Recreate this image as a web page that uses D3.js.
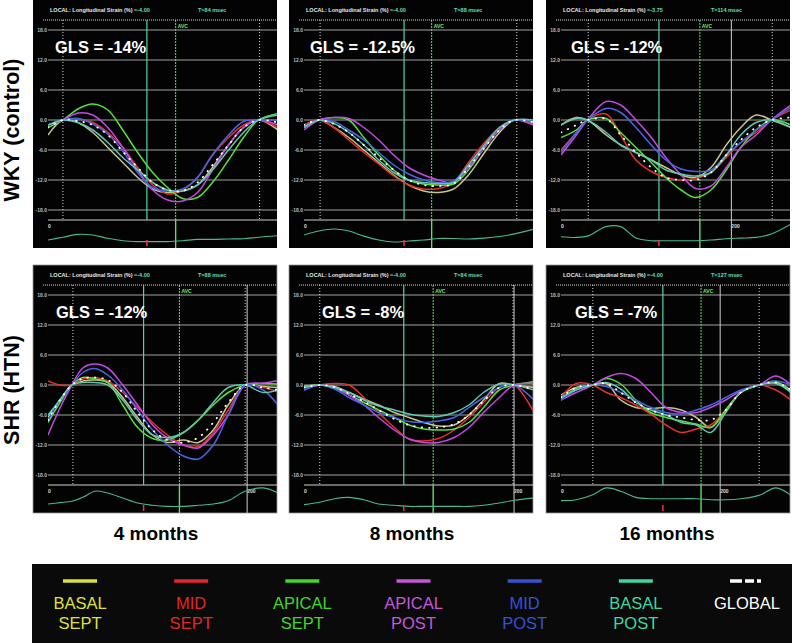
<!DOCTYPE html>
<html lang="en">
<head>
<meta charset="UTF-8">
<title>Longitudinal strain curves</title>
<style>
  body { margin: 0; background: #fff; }
  svg { display: block; font-family: "Liberation Sans", Arial, sans-serif; }
</style>
</head>
<body>
<script src="https://d3js.org/d3.v7.min.js"></script>
<script>
// segment order = row order in every strain table below
const segments = ["BASAL SEPT", "MID SEPT", "APICAL SEPT", "APICAL POST", "MID POST", "BASAL POST", "GLOBAL"];
const traceColors = ["#c9c48c", "#e8302c", "#56e03a", "#c548e6", "#4a64e8", "#5cc8b0", "#ffffff"];
const legendColors = ["#dde23a", "#e0262e", "#43d62c", "#c458d6", "#3452d4", "#3fd8a4", "#ffffff"];

const groups = ["WKY (control)", "SHR (HTN)"];
const ages = ["4 months", "8 months", "16 months"];
const gls = [-14, -12.5, -12, -12, -8, -7];
const headerStrain = ["-4.00", "-4.00", "-3.75", "-4.00", "-4.00", "-4.00"];
const headerT = [84, 88, 114, 88, 84, 127];
const yTicks = [18, 12, 6, 0, -6, -12, -18];

// time markers per panel (msec)
const tMax = [200, 200, 270, 231, 219, 289];
const tDotA = [13, 14, 32, 25, 15, 40];
const tTeal = [86, 87, 115, 96, 95, 128];
const tAVC = [111, 111, 163, 132, 123, 176];
const tDotB = [184, 185, 248, 198, 199, 249];

// WKY 4 months
const times0 = [0, 13, 26, 39, 52, 65, 78, 91, 104, 117, 130, 143, 157, 170, 183, 200];
const strain0 = [
  [-3, 0, -0.5, -2.5, -5.5, -8.5, -11.5, -13.8, -14.5, -14.2, -13, -9.5, -5, -1.5, 0, -2],
  [-1, 0, 0.2, -0.5, -2.5, -5.5, -9.5, -13, -14.8, -14, -11.5, -7, -3.5, -1, 0, -1.5],
  [-1.5, 0, 2.2, 3.2, 2, -2, -6.5, -10.5, -13.5, -15.7, -15.5, -12.5, -8, -3.5, 0, 1.3],
  [-1, 0, 1.4, 1, -1.5, -5.5, -10, -14, -16, -16.2, -14.5, -10, -5, -1.5, 0, -1],
  [-1, 0, 0.3, -0.8, -2.8, -6.2, -10.5, -13.5, -14.2, -13.8, -11.5, -7, -3, -0.3, 0, 0],
  [-1, 0, -0.5, -2, -4.5, -7.5, -10, -12.5, -14, -14.2, -13, -10, -6, -2.5, 0, 1],
  [-1.5, 0, -0.2, -1, -3, -6.3, -9.5, -12.5, -14, -14.2, -12.5, -9, -5, -1.5, 0, -0.5]
];
const ecg0 = [0.27, 0.4, 0.53, 0.5, 0.35, 0.24, 0.2, 0.2, 0.2, 0.24, 0.3, 0.3, 0.32, 0.33, 0.4, 0.47];

// WKY 8 months
const times1 = [0, 13, 26, 39, 52, 65, 78, 91, 104, 117, 130, 143, 157, 170, 183, 200];
const strain1 = [
  [-1.5, 0, -1.5, -3.5, -6, -8.5, -11, -13, -14.2, -14.5, -13.8, -11, -6.5, -2.5, 0, -1],
  [-1, 0, -1.5, -4, -6.5, -8.8, -11.2, -13, -13.8, -13.7, -12.5, -8.5, -4.5, -1.5, 0, -1],
  [-1.5, 0, 0.5, 0, -3.5, -7, -10, -12, -12.8, -13, -12.8, -10, -5.5, -2, 0, -0.5],
  [-2, 0, 0.5, 0.3, -1.5, -4, -7, -9.5, -11, -12, -12.5, -9.5, -5.5, -2, 0, -1],
  [-1.5, 0, -0.3, -2, -4, -6.5, -9, -10.8, -12, -12.5, -12.2, -9, -5, -1.5, 0, -0.5],
  [-1.5, 0, -0.7, -2.5, -5, -8, -10.5, -12, -12.5, -12.7, -12.5, -9, -5, -1.5, 0, 0],
  [-1, 0, -0.8, -2.5, -5, -7.5, -10, -12, -13, -13.2, -12.8, -9.5, -5.5, -2, 0, -0.5]
];
const ecg1 = [0.5, 0.68, 0.77, 0.68, 0.45, 0.27, 0.18, 0.23, 0.27, 0.34, 0.34, 0.32, 0.36, 0.43, 0.55, 0.77];

// WKY 16 months
const times2 = [0, 18, 31, 53, 70, 88, 106, 123, 141, 158, 176, 194, 211, 229, 247, 270];
const strain2 = [
  [-1, 0.5, 0, -3, -5, -6.5, -8, -9.5, -11, -11.5, -9.5, -5, -1.5, 1, 0, -1.5],
  [-6, -2.5, 0, 1.2, -3, -8, -10.3, -11.5, -12, -11.7, -10.5, -7.5, -4.5, -2.5, 0, 2],
  [-3.5, -2, 0, 0.3, -2.5, -5.5, -8.5, -11.5, -14, -15.5, -14, -10, -5.5, -2, 0, -1],
  [-7, -3, 0, 3.7, 3, 0, -3.5, -7.5, -11, -13.7, -13.2, -9.5, -5.5, -3, 0, 3],
  [-6.5, -2.5, 0, 2.3, 1.5, -1.5, -5, -8, -9.8, -10.3, -10, -7, -4.5, -2, 0, 2.5],
  [-1, 0.3, 0, -2.5, -5, -6.5, -8, -10, -10.8, -11.2, -10.5, -7, -3, -0.5, 0, -1.5],
  [-2.5, -1, 0, 0.2, -3, -6.5, -9.5, -11.5, -12, -12, -10.5, -7, -4, -1.5, 0, 0.5]
];
const ecg2 = [0.42, 0.39, 0.45, 0.88, 0.88, 0.36, 0.24, 0.24, 0.24, 0.24, 0.27, 0.33, 0.36, 0.39, 0.55, 1.0];

// SHR 4 months
const times3 = [0, 12, 24, 35, 47, 60, 75, 90, 105, 120, 136, 151, 166, 181, 198, 216, 231];
const strain3 = [
  [-6.5, -3, 0, 0.8, 1, 0.5, -2.5, -6.5, -10, -11.5, -11, -11.5, -9, -4, 0, -0.3, -0.5],
  [0.8, 0, 0, 1.2, 1.5, 0.8, -1.5, -4.5, -7.5, -10, -12, -12.3, -9.5, -5, 0, -0.5, -1.3],
  [-7.5, -3.5, 0, 1.5, 1.2, 0.5, -4, -8.5, -10.7, -11, -9.5, -7, -4, -1.5, 0, 0.3, 0.2],
  [-10, -4.6, 0, 3.4, 4.2, 3.4, 0, -4, -8, -10.6, -12, -12.6, -10, -6, 0, 0.4, 0.9],
  [-7, -3, 0, 2.5, 3.3, 2, -1, -5, -9, -12, -14.2, -14.8, -12, -6, 0, -1, -4],
  [-6, -3, 0, 0.5, 0.5, 0, -3, -7, -10, -10.5, -9.5, -7, -3.5, -0.5, 0, -1.5, -1],
  [-7, -3, 0, 1.3, 1.5, 1, -1.5, -5.5, -9, -11, -11.5, -10.5, -7.5, -3.5, 0, -0.5, -1]
];
const ecg3 = [0.32, 0.38, 0.44, 0.62, 0.9, 0.82, 0.59, 0.36, 0.26, 0.21, 0.21, 0.26, 0.32, 0.47, 0.9, 1.05, 0.82];

// SHR 8 months
const times4 = [0, 15, 29, 43, 57, 71, 86, 100, 114, 128, 143, 157, 171, 186, 200, 219];
const strain4 = [
  [-0.3, 0, -0.3, -1.5, -2.8, -4, -5.5, -6.5, -7.5, -8.2, -8, -6, -3, 0.3, 0, -0.5],
  [-0.5, 0, 0.3, 0, -2.5, -5.5, -8.5, -10.8, -11.2, -10.7, -9, -6.5, -3.5, -0.5, 0, -5.5],
  [-0.3, 0, -0.5, -2, -3.5, -5, -6.5, -8, -8.8, -9, -8.8, -7.5, -4.5, -1, 0, 0.7],
  [-1, 0, -0.5, -2, -4, -6.5, -9, -10.8, -11.5, -11.5, -10.5, -8.5, -5.5, -2.5, 0, 0.3],
  [-1, 0, -0.8, -2.5, -4, -5.5, -6.5, -7.3, -7.5, -7.2, -6.5, -4.5, -2.5, -0.5, 0, -3],
  [-0.5, 0, -0.5, -1.5, -3, -4.2, -5, -5.8, -6.2, -6.3, -5.5, -4, -1.5, 0.2, 0, -1],
  [-0.5, 0, -0.4, -1.8, -3.3, -5, -6.8, -8, -8.5, -8.5, -7.8, -6, -3.2, -0.5, 0, -1]
];
const ecg4 = [0.29, 0.4, 0.56, 0.62, 0.51, 0.32, 0.26, 0.21, 0.21, 0.21, 0.21, 0.21, 0.26, 0.36, 0.49, 0.59];

// SHR 16 months
const times5 = [0, 19, 40, 57, 75, 94, 113, 132, 151, 170, 188, 207, 226, 249, 270, 289];
const strain5 = [
  [-2, -0.5, 0, 0.3, -3, -4.5, -4.7, -4.5, -5, -6.5, -8.5, -5, -1.5, 0, 0.5, -1],
  [-2.5, 0.3, 0, -1.5, -2.5, -4, -5.8, -8, -9.5, -8.8, -8, -5, -1.5, 0, -1, -3],
  [-3, -0.7, 0, 1.3, 0.2, -3, -5.5, -6.5, -7.2, -7.8, -8.5, -5, -1.5, 0, 0.7, -1.5],
  [-3, -1.5, 0, 1.5, 2.3, 1.3, -1.5, -4.5, -5.5, -5.5, -4.5, -3, -1.2, 0, 1.8, 0],
  [-3, -1, 0, -0.3, -1.5, -3, -4.5, -5.5, -5.8, -5, -4, -2.5, -1, 0, 0.8, 0],
  [-2.5, -1, 0, 0.5, -0.8, -3.5, -5, -6, -7.5, -8, -9.5, -5.5, -1.5, 0, 0.3, -1.5],
  [-2.5, -0.5, 0, 0.3, -1.5, -3.5, -5, -6, -6.5, -7, -7, -5, -1.5, 0, 0.5, -1]
];
const ecg5 = [0.47, 0.51, 0.74, 1.05, 0.9, 0.62, 0.56, 0.56, 0.56, 0.56, 0.51, 0.51, 0.56, 0.71, 1.05, 0.71];

const panelTimes = [times0, times1, times2, times3, times4, times5];
const panelStrain = [strain0, strain1, strain2, strain3, strain4, strain5];
const panelEcg = [ecg0, ecg1, ecg2, ecg3, ecg4, ecg5];

// layout
const width = 792, height = 643;
const panelLeft = [33, 289, 546], panelTop = [0, 265];
const pw = 244, ph = 248;
const glsX = [22, 21, 25, 23, 33, 29];

const svg = d3.select("body").append("svg")
    .attr("width", width)
    .attr("height", height);

const y = d3.scaleLinear().domain([-18, 18]).range([210, 30]);
const yEcg = d3.scaleLinear().domain([0, 1]).range([246, 224]);

const defs = svg.append("defs");
defs.append("clipPath").attr("id", "plotClip")
    .append("rect").attr("x", 15).attr("y", 20).attr("width", pw - 15).attr("height", 200);
defs.append("clipPath").attr("id", "stripClip")
    .append("rect").attr("x", 15).attr("y", 221).attr("width", pw - 15).attr("height", ph - 221);

gls.forEach(function(v, i) {
    const row = Math.floor(i / 3), col = i % 3;
    const g = svg.append("g")
        .attr("transform", `translate(${panelLeft[col]},${panelTop[row]})`);
    const x = d3.scaleLinear().domain([0, tMax[i]]).range([15, 245]);

    g.append("rect")
        .attr("width", pw).attr("height", ph)
        .attr("fill", "#030303")
        .attr("stroke", row ? "#9a9a9a" : "none")
        .attr("stroke-width", 0.8);

    // header
    const head = g.append("text")
        .attr("x", 17).attr("y", 12)
        .attr("font-size", 5.5).attr("font-weight", "bold")
        .attr("fill", "#e8e8e8");
    head.append("tspan").text("LOCAL:  Longitudinal Strain (%) ");
    head.append("tspan").attr("fill", "#5fe0b0").text("=" + headerStrain[i]);
    g.append("text")
        .attr("x", 165).attr("y", 12)
        .attr("font-size", 5.5).attr("font-weight", "bold")
        .attr("fill", "#5fe0b0")
        .text(`T=${headerT[i]} msec`);
    g.append("line")
        .attr("x1", 10).attr("x2", pw).attr("y1", 20).attr("y2", 20)
        .attr("stroke", "#ddd").attr("stroke-width", 1).attr("stroke-dasharray", "1,1");

    // horizontal grid
    g.selectAll(".grid").data(yTicks).enter().append("line")
        .attr("x1", 15).attr("x2", pw)
        .attr("y1", d => y(d)).attr("y2", d => y(d))
        .attr("stroke", "#b4b4b4").attr("stroke-width", 0.9);
    g.selectAll(".ytick").data(yTicks).enter().append("text")
        .attr("x", 14).attr("y", d => y(d) + 2)
        .attr("text-anchor", "end")
        .attr("font-size", 5).attr("font-weight", "bold")
        .attr("fill", "#bbb")
        .text(d => d.toFixed(1));

    // strip separator
    g.append("line")
        .attr("x1", 15).attr("x2", pw).attr("y1", 220).attr("y2", 220)
        .attr("stroke", "#d0d0d0").attr("stroke-width", 1);

    // vertical markers
    [tDotA[i], tDotB[i]].forEach(function(t) {
        g.append("line")
            .attr("x1", x(t)).attr("x2", x(t)).attr("y1", 20).attr("y2", 220)
            .attr("stroke", "#d8d8d8").attr("stroke-width", 1)
            .attr("stroke-dasharray", "1,2");
    });
    if (tMax[i] > 200) {
        g.append("line")
            .attr("x1", x(200)).attr("x2", x(200)).attr("y1", 20).attr("y2", ph)
            .attr("stroke", "#cfcfcf").attr("stroke-width", 1);
        g.append("text")
            .attr("x", x(200)).attr("y", 228)
            .attr("font-size", 5).attr("font-weight", "bold").attr("fill", "#ddd")
            .text("200");
    }
    g.append("text")
        .attr("x", 15).attr("y", 228)
        .attr("font-size", 5).attr("font-weight", "bold").attr("fill", "#ddd")
        .text("0");
    g.append("line")
        .attr("x1", x(tTeal[i])).attr("x2", x(tTeal[i])).attr("y1", 20).attr("y2", 220)
        .attr("stroke", "#4fd6a8").attr("stroke-width", 1.2);
    g.append("line")
        .attr("x1", x(tAVC[i])).attr("x2", x(tAVC[i])).attr("y1", 20).attr("y2", 220)
        .attr("stroke", "#5ee05e").attr("stroke-width", 1)
        .attr("stroke-dasharray", "2,1");
    g.append("line")
        .attr("x1", x(tAVC[i])).attr("x2", x(tAVC[i])).attr("y1", 220).attr("y2", ph)
        .attr("stroke", "#5ee05e").attr("stroke-width", 1.4);
    g.append("text")
        .attr("x", x(tAVC[i]) + 2).attr("y", 28)
        .attr("font-size", 5).attr("font-weight", "bold").attr("fill", "#6ee86e")
        .text("AVC");

    // strain traces
    const times = panelTimes[i];
    const line = d3.line()
        .x((d, k) => x(times[k]))
        .y(d => y(d))
        .curve(d3.curveCatmullRom.alpha(0.5));
    const traces = g.append("g").attr("clip-path", "url(#plotClip)");
    panelStrain[i].forEach(function(vals, s) {
        const isGlobal = segments[s] === "GLOBAL";
        traces.append("path")
            .attr("d", line(vals))
            .attr("fill", "none")
            .attr("stroke", traceColors[s])
            .attr("stroke-width", isGlobal ? 1.8 : 1.5)
            .attr("stroke-linecap", isGlobal ? "round" : "butt")
            .attr("stroke-dasharray", isGlobal ? "0.5,7" : null);
    });

    // ecg strip
    const ecgLine = d3.line()
        .x((d, k) => x(times[k]))
        .y(d => yEcg(d))
        .curve(d3.curveCatmullRom.alpha(0.5));
    const strip = g.append("g").attr("clip-path", "url(#stripClip)");
    strip.append("path")
        .attr("d", ecgLine(panelEcg[i]))
        .attr("fill", "none")
        .attr("stroke", "#48b890")
        .attr("stroke-width", 1.1);
    strip.append("line")
        .attr("x1", x(tTeal[i])).attr("x2", x(tTeal[i])).attr("y1", 240).attr("y2", 246)
        .attr("stroke", "#ff3040").attr("stroke-width", 1.5);

    // GLS label
    g.append("text")
        .attr("x", glsX[i]).attr("y", 53)
        .attr("font-size", 16.5).attr("font-weight", "bold")
        .attr("fill", "#fff")
        .text(`GLS = ${v}%`);
});

// row labels
const rowCenters = [130, 390];
groups.forEach(function(name, r) {
    svg.append("text")
        .attr("transform", `translate(19,${rowCenters[r]}) rotate(-90)`)
        .attr("text-anchor", "middle")
        .attr("font-size", 21.5).attr("font-weight", "bold")
        .attr("fill", "#000")
        .text(name);
});

// column labels
const colCenters = [156, 412, 667];
ages.forEach(function(name, c) {
    svg.append("text")
        .attr("x", colCenters[c]).attr("y", 540)
        .attr("text-anchor", "middle")
        .attr("font-size", 19).attr("font-weight", "bold")
        .attr("fill", "#000")
        .text(name);
});

// legend
svg.append("rect")
    .attr("x", 32).attr("y", 564).attr("width", width - 32).attr("height", height - 564)
    .attr("fill", "#0a0a0a");
const lx = d3.scalePoint().domain(segments).range([80, 747]);
const items = svg.selectAll(".legend").data(segments).enter().append("g")
    .attr("transform", d => `translate(${lx(d)},0)`);
items.append("line")
    .attr("x1", -17).attr("x2", 17).attr("y1", 581).attr("y2", 581)
    .attr("stroke", (d, k) => legendColors[k])
    .attr("stroke-width", 3.5)
    .attr("stroke-dasharray", d => d === "GLOBAL" ? "12,3,9,3,4" : null);
items.each(function(d, k) {
    const words = d.split(" ");
    words.forEach(function(w, j) {
        d3.select(this).append("text")
            .attr("y", 609 + j * 20)
            .attr("text-anchor", "middle")
            .attr("font-size", 16.5)
            .attr("fill", legendColors[k])
            .text(w);
    }, this);
});
</script>
</body>
</html>
